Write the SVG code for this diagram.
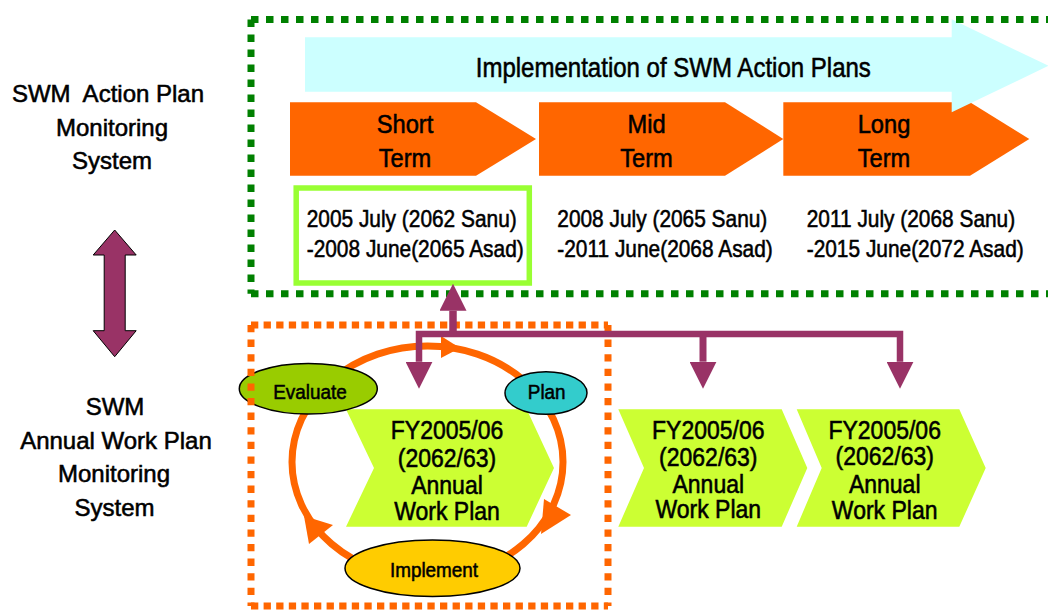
<svg xmlns="http://www.w3.org/2000/svg" width="1048" height="610" viewBox="0 0 1048 610">
  <style>
    .txt { font-family: "Liberation Sans", Arial, sans-serif; fill: #000; stroke: #000; stroke-width: 0.55; }
    .mid { text-anchor: middle; }
    .side { font-size: 24px; }
    .banner { font-size: 27px; }
    .term { font-size: 26px; }
    .date { font-size: 24px; }
    .fy { font-size: 25px; }
    .step { font-size: 21px; }
    .termArrow { fill: #FF6600; }
    .chevron { fill: #CCFF33; }
    .stepOval { stroke: #000; stroke-width: 1.5; }
    .frameGreen { fill: none; stroke: #008000; stroke-width: 7; stroke-dasharray: 7.5 7.5; }
    .frameOrangeH { fill: none; stroke: #FF6600; stroke-width: 7; stroke-dasharray: 7.3 5.3; }
    .frameOrangeV { fill: none; stroke: #FF6600; stroke-width: 7; stroke-dasharray: 7.3 7.3; }
    .link { fill: none; stroke: #993366; stroke-linejoin: miter; }
  </style>
  <defs>
    <marker id="headPurple" viewBox="0 0 27 27" markerWidth="27" markerHeight="27" refX="0" refY="13.5" orient="auto-start-reverse" markerUnits="userSpaceOnUse">
      <path d="M0,0 L27,13.5 L0,27 Z" fill="#993366"/>
    </marker>
  </defs>

  <rect width="1048" height="610" fill="#fff"/>

  <!-- side labels -->
  <g id="label-action-plan" class="txt side mid">
    <text x="108" y="101.7" xml:space="preserve">SWM  Action Plan</text>
    <text x="112" y="135.5">Monitoring</text>
    <text x="112" y="169.3">System</text>
  </g>
  <g id="label-annual-plan" class="txt side mid">
    <text x="115" y="415">SWM</text>
    <text x="116" y="448.5">Annual Work Plan</text>
    <text x="114" y="482">Monitoring</text>
    <text x="114.5" y="515.5">System</text>
  </g>

  <!-- link between the two monitoring systems -->
  <g id="double-arrow">
    <polygon points="114.7,230 136.2,255 125.2,255 125.2,330.7 136.2,330.7 114.7,356.7 93.2,330.7 104.2,330.7 104.2,255 93.2,255" fill="#993366" stroke="#000" stroke-width="1"/>
  </g>

  <!-- term arrows -->
  <g id="term-short">
    <polygon class="termArrow" points="290,102.3 476,102.3 536,139 476,175.7 290,175.7"/>
    <g class="txt term mid" transform="translate(405 0) scale(0.91 1)">
      <text x="0" y="133.3">Short</text>
      <text x="0" y="167.3">Term</text>
    </g>
  </g>
  <g id="term-mid">
    <polygon class="termArrow" points="539,102.3 725,102.3 783.3,139 725,175.7 539,175.7"/>
    <g class="txt term mid" transform="translate(646.5 0) scale(0.91 1)">
      <text x="0" y="133.3">Mid</text>
      <text x="0" y="167.3">Term</text>
    </g>
  </g>
  <g id="term-long">
    <polygon class="termArrow" points="783.3,102.3 970,102.3 1029.3,139 970,175.7 783.3,175.7"/>
    <g class="txt term mid" transform="translate(884 0) scale(0.91 1)">
      <text x="0" y="133.3">Long</text>
      <text x="0" y="167.3">Term</text>
    </g>
  </g>

  <!-- implementation banner -->
  <g id="implementation-banner">
    <polygon points="305,37.3 951.7,37.3 951.7,19.3 1048.5,65.8 951.7,112.3 951.7,91.7 305,91.7" fill="#CCFFFF"/>
    <text class="txt banner mid" transform="translate(673.3 77.3) scale(0.89 1)" x="0" y="0">Implementation of SWM Action Plans</text>
  </g>

  <!-- period dates -->
  <g id="dates-short">
    <rect x="296.2" y="188" width="233.1" height="95" fill="none" stroke="#99FF33" stroke-width="5.5"/>
    <g class="txt date" transform="translate(306.7 0) scale(0.87 1)">
      <text x="0" y="226.7">2005 July (2062 Sanu)</text>
      <text x="0" y="257.3">-2008 June(2065 Asad)</text>
    </g>
  </g>
  <g id="dates-mid" class="txt date" transform="translate(557.3 0) scale(0.87 1)">
    <text x="0" y="226.7">2008 July (2065 Sanu)</text>
    <text x="0" y="257.3">-2011 June(2068 Asad)</text>
  </g>
  <g id="dates-long" class="txt date" transform="translate(806.7 0) scale(0.87 1)">
    <text x="0" y="226.7">2011 July (2068 Sanu)</text>
    <text x="0" y="257.3">-2015 June(2072 Asad)</text>
  </g>

  <!-- action plan frame -->
  <g id="frame-action-plan">
    <path class="frameGreen" d="M251,19.5 H1060"/>
    <path class="frameGreen" d="M251,19.5 V293.7"/>
    <path class="frameGreen" d="M251,293.7 H1060"/>
  </g>

  <!-- plan / implement / evaluate cycle -->
  <g id="cycle">
    <ellipse cx="427.5" cy="462" rx="135.5" ry="116" fill="none" stroke="#FF6600" stroke-width="7"/>
    <polygon points="441,336 460,348 441,358" fill="#FF6600"/>
    <polygon points="544,499 571,515 541,534" fill="#FF6600"/>
    <polygon points="333,525 309,544 304,516" fill="#FF6600"/>
  </g>

  <!-- annual work plans -->
  <g id="annual-plan-1">
    <polygon class="chevron" points="346,409.3 526.7,409.3 554,468 526.7,526.7 346,526.7 374,468"/>
    <g class="txt fy mid" transform="translate(447 0) scale(0.92 1)">
      <text x="0" y="439.5">FY2005/06</text>
      <text x="0" y="467">(2062/63)</text>
      <text x="0" y="494">Annual</text>
      <text x="0" y="520">Work Plan</text>
    </g>
  </g>
  <g id="annual-plan-2">
    <polygon class="chevron" points="618.3,409.3 781.7,409.3 807.3,468 781.7,526.7 618.3,526.7 644,468"/>
    <g class="txt fy mid" transform="translate(708.3 0) scale(0.92 1)">
      <text x="0" y="439.5">FY2005/06</text>
      <text x="0" y="466">(2062/63)</text>
      <text x="0" y="493">Annual</text>
      <text x="0" y="518.5">Work Plan</text>
    </g>
  </g>
  <g id="annual-plan-3">
    <polygon class="chevron" points="796.7,409.3 959.3,409.3 985.7,468 959.3,526.7 796.7,526.7 821.7,468"/>
    <g class="txt fy mid" transform="translate(884.7 0) scale(0.92 1)">
      <text x="0" y="439.5">FY2005/06</text>
      <text x="0" y="465.5">(2062/63)</text>
      <text x="0" y="493.3">Annual</text>
      <text x="0" y="519.3">Work Plan</text>
    </g>
  </g>

  <g id="step-evaluate">
    <ellipse class="stepOval" cx="308.3" cy="388.7" rx="69" ry="25.3" fill="#99CC00"/>
    <text class="txt step mid" transform="translate(310 399.3) scale(0.9 1)" x="0" y="0">Evaluate</text>
  </g>
  <g id="step-plan">
    <ellipse class="stepOval" cx="546" cy="393" rx="41" ry="21.3" fill="#33CCCC"/>
    <text class="txt step mid" transform="translate(546.7 399.3) scale(0.9 1)" x="0" y="0">Plan</text>
  </g>
  <g id="step-implement">
    <ellipse class="stepOval" cx="432.5" cy="568.3" rx="87.5" ry="28.3" fill="#FFCC00"/>
    <text class="txt step mid" transform="translate(434 576.7) scale(0.9 1)" x="0" y="0">Implement</text>
  </g>

  <!-- annual work plan frame -->
  <g id="frame-annual-plan">
    <path class="frameOrangeH" d="M251,325 H608"/>
    <path class="frameOrangeV" d="M251,325 V606"/>
    <path class="frameOrangeV" d="M608,325 V606"/>
    <path class="frameOrangeH" d="M251,606 H608"/>
  </g>

  <!-- connectors -->
  <g id="connectors">
    <path class="link" stroke-width="6.5" d="M419,361.7 V334 H900 V361.7" marker-start="url(#headPurple)" marker-end="url(#headPurple)"/>
    <path class="link" stroke-width="7" d="M703,334 V361.7" marker-end="url(#headPurple)"/>
    <path class="link" stroke-width="7.5" d="M453,334 V310.7" marker-end="url(#headPurple)"/>
  </g>
</svg>
